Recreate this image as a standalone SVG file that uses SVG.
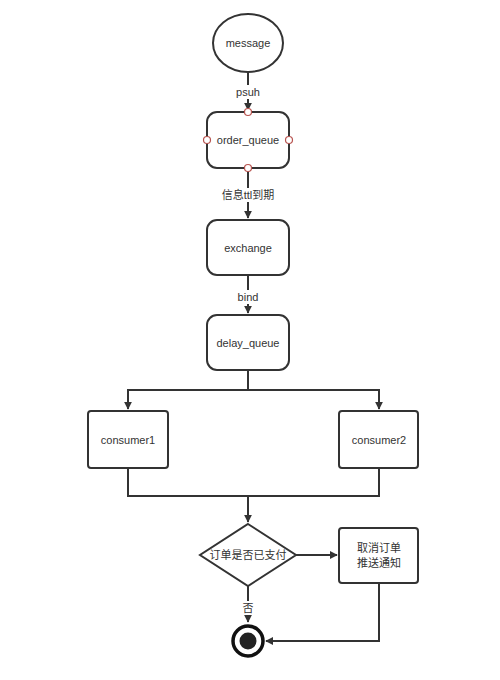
<svg xmlns="http://www.w3.org/2000/svg" width="500" height="680" viewBox="0 0 500 680">
<defs>
<marker id="arr" viewBox="0 0 10 10" refX="9" refY="5" markerWidth="8" markerHeight="8" markerUnits="userSpaceOnUse" orient="auto">
<path d="M0,0 L10,5 L0,10 Z" fill="#333"/>
</marker>
<style>
.n{fill:#fff;stroke:#333;stroke-width:2}
.t{font-family:"Liberation Sans","Noto Sans CJK SC",sans-serif;font-size:11px;fill:#333;text-anchor:middle;dominant-baseline:central}
.c{fill:none;stroke:#333;stroke-width:2}
.p{fill:#fff;stroke:#b85450;stroke-width:1.2}
.lb{fill:#fff}
</style>
</defs>
<rect width="500" height="680" fill="#fff"/>
<g id="connectors">
<path class="c" d="M248,72 V110" marker-end="url(#arr)"/>
<rect class="lb" x="234" y="85" width="28" height="14"/>
<text class="t" x="248" y="92">psuh</text>
<path class="c" d="M248,168 V218" marker-end="url(#arr)"/>
<rect class="lb" x="220" y="188" width="56" height="14"/>
<text class="t" x="248" y="195">信息ttl到期</text>
<path class="c" d="M248,275 V313" marker-end="url(#arr)"/>
<rect class="lb" x="236" y="290" width="24" height="14"/>
<text class="t" x="248" y="297">bind</text>
<path class="c" d="M248,370 V390 H128 V409" marker-end="url(#arr)"/>
<path class="c" d="M248,390 H379 V409" marker-end="url(#arr)"/>
<path class="c" d="M128,468 V496 H379 V468"/>
<path class="c" d="M248,496 V522" marker-end="url(#arr)"/>
<path class="c" d="M295,555 H337" marker-end="url(#arr)"/>
<path class="c" d="M248,586 V622" marker-end="url(#arr)"/>
<rect class="lb" x="240" y="601" width="16" height="14"/>
<text class="t" x="248" y="608">否</text>
<path class="c" d="M379,583 V641 H266" marker-end="url(#arr)"/>
</g>
<g id="message">
<ellipse class="n" cx="248" cy="43" rx="35" ry="29"/>
<text class="t" x="248" y="43">message</text>
</g>
<g id="order_queue">
<rect class="n" x="207" y="112" width="82" height="56" rx="10"/>
<text class="t" x="248" y="140">order_queue</text>
<circle class="p" cx="248" cy="112" r="3.5"/>
<circle class="p" cx="207" cy="140" r="3.5"/>
<circle class="p" cx="289" cy="140" r="3.5"/>
<circle class="p" cx="248" cy="168" r="3.5"/>
</g>
<g id="exchange">
<rect class="n" x="207" y="220" width="82" height="55" rx="10"/>
<text class="t" x="248" y="248">exchange</text>
</g>
<g id="delay_queue">
<rect class="n" x="207" y="315" width="82" height="55" rx="10"/>
<text class="t" x="248" y="343">delay_queue</text>
</g>
<g id="consumer1">
<rect class="n" x="88" y="411" width="80" height="57" rx="3"/>
<text class="t" x="128" y="440">consumer1</text>
</g>
<g id="consumer2">
<rect class="n" x="339" y="411" width="79" height="57" rx="3"/>
<text class="t" x="379" y="440">consumer2</text>
</g>
<g id="decision">
<path class="n" d="M248,524 L296,555 L248,586 L200,555 Z"/>
<text class="t" x="248" y="555">订单是否已支付</text>
</g>
<g id="cancel">
<rect class="n" x="339" y="528" width="79" height="55" rx="3"/>
<text class="t" x="379" y="548">取消订单</text>
<text class="t" x="379" y="563">推送通知</text>
</g>
<g id="end">
<circle cx="248" cy="641" r="15" fill="#fff" stroke="#111" stroke-width="3.5"/>
<circle cx="248" cy="641" r="8.5" fill="#222"/>
</g>
</svg>
